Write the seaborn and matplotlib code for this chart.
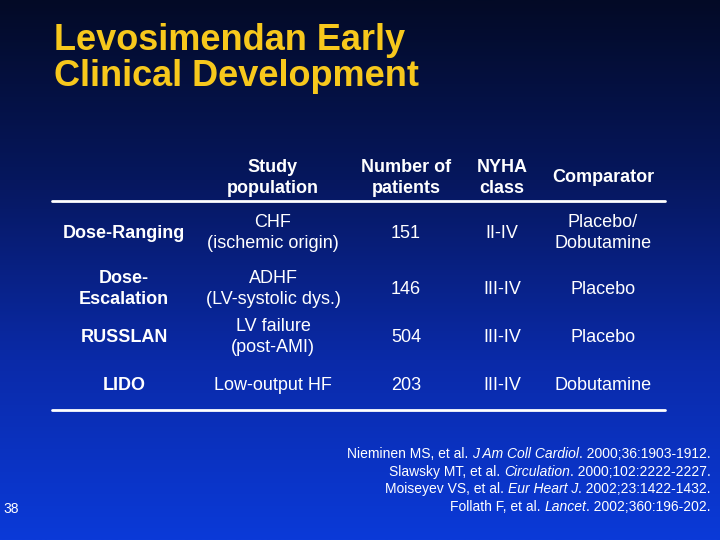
import numpy as np
import matplotlib
matplotlib.use("Agg")
import matplotlib.pyplot as plt
import seaborn as sns

# Table content
title = "Levosimendan Early\nClinical Development"
headers = ["Study\npopulation", "Number of\npatients", "NYHA\nclass", "Comparator"]
studies = ["Dose-Ranging", "Dose-\nEscalation", "RUSSLAN", "LIDO"]
populations = ["CHF\n(ischemic origin)", "ADHF\n(LV-systolic dys.)", "LV failure\n(post-AMI)", "Low-output HF"]
n_patients = [151, 146, 504, 203]
nyha_class = ["II-IV", "III-IV", "III-IV", "III-IV"]
comparators = ["Placebo/\nDobutamine", "Placebo", "Placebo", "Dobutamine"]

# citations: (plain, italic, plain)
ref_authors = ["Nieminen MS, et al. ", "Slawsky MT, et al. ", "Moiseyev VS, et al. ", "Follath F, et al. "]
ref_journals = ["J Am Coll Cardiol", "Circulation", "Eur Heart J", "Lancet"]
ref_details = [". 2000;36:1903-1912.", ". 2000;102:2222-2227.", ". 2002;23:1422-1432.", ". 2002;360:196-202."]
page_number = "38"

sns.set_theme(style="white")
plt.rcParams["font.family"] = ["Liberation Sans", "DejaVu Sans"]

fig = plt.figure(figsize=(7.2, 5.4), dpi=100)
ax = fig.add_axes([0, 0, 1, 1])
ax.set_xlim(0, 720)
ax.set_ylim(540, 0)
ax.axis("off")

# background gradient, dark navy at the top to bright blue at the bottom
grad = sns.blend_palette(["#030a26", "#06175e", "#0a2aa8", "#0b3ad8"], n_colors=256)
ax.imshow(np.array(grad)[:, None, :], extent=[0, 720, 540, 0], aspect="auto", zorder=0)

ax.text(54, 23, title, color="#f7c81c", fontsize=26, fontweight="bold",
        ha="left", va="top", linespacing=1.03)

col_x = [124, 273, 406, 502, 603]
header_y = 178
row_y = [233, 289, 337, 385]
fs = 13

for x, h in zip(col_x[1:], headers):
    ax.text(x, header_y, h, color="white", fontsize=fs, fontweight="bold",
            ha="center", va="center", linespacing=1.3)

ax.plot([52, 665], [201, 201], color="white", lw=2)
ax.plot([52, 665], [410, 410], color="white", lw=2)

for i, y in enumerate(row_y):
    ax.text(col_x[0], y, studies[i], color="white", fontsize=fs, fontweight="bold",
            ha="center", va="center", linespacing=1.25)
    cells = [populations[i], str(n_patients[i]), nyha_class[i], comparators[i]]
    for x, c in zip(col_x[1:], cells):
        ax.text(x, y, c, color="white", fontsize=fs, ha="center", va="center",
                linespacing=1.25)

# references, right aligned with italic journal names
fig.canvas.draw()
renderer = fig.canvas.get_renderer()
ref_y = [454, 472, 489, 507]
inv = ax.transData.inverted()
for i, y in enumerate(ref_y):
    x_right = 711
    pieces = [(ref_details[i], "normal"), (ref_journals[i], "italic"), (ref_authors[i], "normal")]
    for txt, style in pieces:
        t = ax.text(x_right, y, txt, color="white", fontsize=10, style=style,
                    ha="right", va="center")
        bb = t.get_window_extent(renderer=renderer)
        x_right = inv.transform((bb.x0, bb.y0))[0]

ax.text(3, 509, page_number, color="white", fontsize=10, ha="left", va="center")

fig.savefig("out.png", dpi=100)
